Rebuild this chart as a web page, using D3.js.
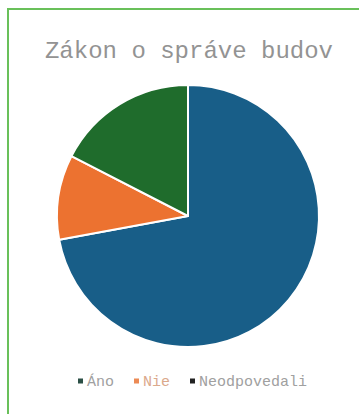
<!DOCTYPE html>
<html>
<head>
<meta charset="utf-8">
<script src="https://cdn.jsdelivr.net/npm/d3@7"></script>
<style>
  html, body { margin: 0; padding: 0; background: #fff; }
  svg { display: block; }
</style>
</head>
<body>
<svg id="chart" width="359" height="414"></svg>
<script>
// Survey answers: "Zákon o správe budov"
const categories = ["Áno", "Nie", "Neodpovedali"];
const counts = [62, 9, 15];
const colors = ["#185e88", "#ec7230", "#1f6c2c"];
const legendMarkers = ["#2b4f45", "#ec8a55", "#222222"];
const title = "Zákon o správe budov";

const svg = d3.select("#chart");
const W = 359, H = 414;
const monoFont = "'Courier New', Courier, 'Nimbus Mono PS', FreeMono, 'Liberation Mono', monospace";

// frame
svg.append("rect")
  .attr("x", 8).attr("y", 9)
  .attr("width", W + 10).attr("height", H + 10)
  .attr("fill", "none")
  .attr("stroke", "#69c05a")
  .attr("stroke-width", 2);

// title
svg.append("text")
  .attr("x", 189).attr("y", 58)
  .attr("text-anchor", "middle")
  .attr("font-family", monoFont)
  .attr("font-size", 24)
  .attr("fill", "#939393")
  .text(title);

// pie
const cx = 188, cy = 216, r = 131;
const data = categories.map((c, i) => ({ name: c, value: counts[i], color: colors[i] }));
const pie = d3.pie().sort(null).value(d => d.value);
const arc = d3.arc().innerRadius(0).outerRadius(r);

svg.append("g")
  .attr("transform", `translate(${cx},${cy})`)
  .selectAll("path")
  .data(pie(data))
  .join("path")
  .attr("d", arc)
  .attr("fill", d => d.data.color)
  .attr("stroke", "#fff")
  .attr("stroke-width", 2)
  .attr("stroke-linejoin", "round");

// legend
const legendY = 381;
const legendFont = 15;
const charW = legendFont * 0.6;
let lx = 78;
const lg = svg.append("g");
categories.forEach((c, i) => {
  lg.append("rect")
    .attr("x", lx).attr("y", legendY - 2.5)
    .attr("width", 5).attr("height", 5)
    .attr("fill", legendMarkers[i]);
  lg.append("text")
    .attr("x", lx + 9).attr("y", legendY + 4.5)
    .attr("font-family", monoFont)
    .attr("font-size", legendFont)
    .attr("fill", i === 1 ? "#dba98c" : "#a0a0a0")
    .text(c);
  lx += 9 + c.length * charW + 20;
});
</script>
</body>
</html>
